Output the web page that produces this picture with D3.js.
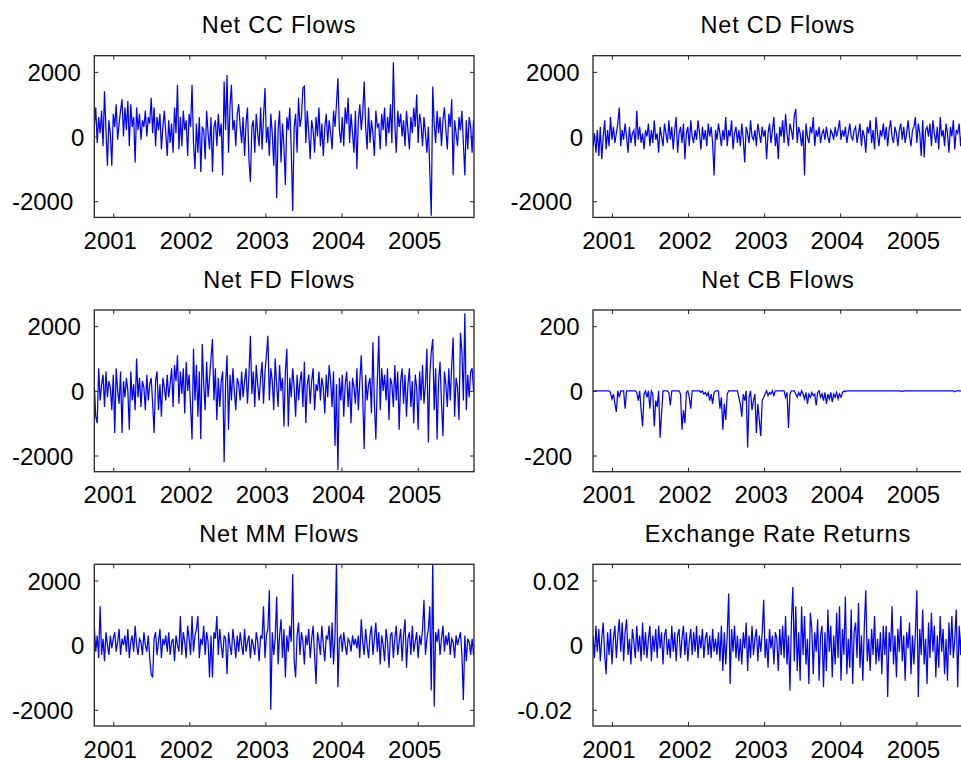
<!DOCTYPE html>
<html>
<head>
<meta charset="utf-8">
<script src="https://cdn.jsdelivr.net/npm/d3@7"></script>
<style>
  body { margin: 0; background: #fff; }
  svg { display: block; font-family: "Liberation Sans", Arial, sans-serif; }
</style>
</head>
<body>
<div id="chart"></div>
<script>
// Six weekly series, Oct 2000 - Sep 2005

const panelTitles = ['Net CC Flows', 'Net CD Flows', 'Net FD Flows', 'Net CB Flows', 'Net MM Flows', 'Exchange Rate Returns'];

const ccFlows = [
  300, 900, -200, 600, 100, 800, -300, 1400, 200, -900,
  500, 100, -900, 700, 300, 1000, -100, 400, 800, 1150,
  0, 900, 200, 1100, -300, 1000, 300, 600, -800, 900,
  200, 700, -100, 500, 300, 800, 0, 600, 400, 1200,
  100, 900, -300, 600, 200, 700, -400, 300, 800, 100,
  -600, 500, -200, 400, -500, 900, 100, 1600, -400, 600,
  -300, 800, 200, 500, -600, 700, 300, 1600, -200, -1000,
  400, -500, 600, -1100, 300, 200, -700, 800, 100, -400,
  600, -1100, 300, 500, -300, 700, 0, 400, -1200, 1700,
  200, 1900, -500, 900, 1600, 200, 500, -300, 700, 1000,
  300, -200, 600, -600, 400, 900, -700, -1400, 300, 500,
  -500, 700, 100, -300, 900, -400, 600, 1500, -200, 300,
  -600, 700, 100, -900, 500, -1900, 200, 800, -800, 400,
  -300, -1500, 600, 200, 900, -400, -2300, 300, 700, -500,
  1200, 300, 600, 1500, 1550, -200, 800, 100, -700, 500,
  200, -500, 600, 0, 900, -300, 400, -600, 300, 700,
  -200, 500, 100, -400, 800, 300, 1000, 1800, 200, -200,
  600, -300, 900, 400, 1200, -200, 700, 100, -500, 800,
  -1000, 500, 1000, 200, 700, 1700, 300, -400, 900, -200,
  500, 100, -600, 800, 300, 400, -400, 700, 200, 900,
  -300, 600, 100, 1000, -200, 2300, 400, -500, 800, 300,
  700, 0, 500, -300, 800, 200, -400, 600, 100, 900,
  300, 1300, -200, 700, 400, -300, 600, 100, -500, 300,
  -1100, -2450, 1550, 400, -200, 800, 100, 600, -300, 500,
  900, 200, -400, 700, 300, 1150, -1200, 500, 100, -300,
  600, 200, 800, -200, -1200, 500, -400, 600, 300, -500,
  500
];

const cdFlows = [
  -300, 100, -500, 200, -600, 300, -700, 0, 500, -400,
  200, -300, 600, -100, 300, -200, 100, 400, 900, -300,
  200, -100, 400, 0, -500, 300, -200, 100, 200, -300,
  800, -100, 300, -200, 100, -400, 200, 0, 400, -300,
  200, -200, 500, -100, 100, -500, 300, 0, -300, 400,
  100, -200, 500, -100, 300, -400, 200, 600, -500, 100,
  300, -200, 400, -700, 100, 300, -300, 500, 0, -200,
  200, -100, 500, 100, -400, 300, -100, 200, -300, 400,
  0, 300, -200, -1200, 200, -100, 400, 100, -300, 200,
  -100, 600, -300, 200, 0, 500, -400, 100, 300, -200,
  200, -300, 400, -100, -800, 300, 100, -200, 500, 0,
  -100, 200, -300, 400, 100, -200, 300, 0, 200, -700,
  100, 400, -200, 200, 600, -300, 100, -700, 300, 0,
  500, -200, 700, 100, -300, 400, 200, -100, 650, 850,
  -200, 300, 100, -300, 200, -1200, 400, 0, -200, 300,
  100, 600, -300, 200, 0, 300, -200, 100, 200, -100,
  300, 0, -200, 200, 100, -100, 300, 0, 200, 500,
  -100, 200, 0, 300, -200, 100, 400, 0, -100, 200,
  300, -200, 100, 400, -300, 200, 0, -500, 300, 100,
  500, -200, 200, -400, 600, 100, -300, 200, 0, 400,
  -100, 300, -300, 200, 500, 0, -200, 300, 100, -300,
  200, 400, -100, 300, -200, 100, 500, 0, -300, 200,
  300, 600, -200, 400, 100, -600, 500, -650, 200, 300,
  0, 400, -300, 500, 100, -200, 300, -400, 600, 0,
  200, -300, 400, 100, -500, 300, 0, 500, -400, 200,
  100, 400, -300, 200, 0, 300, -200, 100, 200, -100,
  0
];

const fdFlows = [
  200, -800, -1000, 700, -300, 200, 500, -500, 600, -200,
  300, 100, -600, 500, -1300, 700, 0, -400, 600, -1300,
  300, -200, 400, 0, -1200, 600, -300, 200, -600, 1000,
  -200, 400, -500, 300, 100, -600, 500, -300, 200, 400,
  -400, -1300, 300, 600, -600, 200, -800, 400, 100, -300,
  500, -200, 200, 700, -500, 800, 300, 1100, -400, 600,
  -100, 700, -700, 900, 0, 500, -500, -1500, 1300, -300,
  800, -800, 600, -1500, 1450, 200, -600, 900, -200, 400,
  1000, 1600, -300, 700, -900, 400, -500, 300, 600, -2200,
  200, 1100, -1200, 500, -300, 700, 0, -600, 400, 200,
  -300, 600, -200, 300, 700, -400, 500, 1700, -100, 600,
  -500, 800, 200, -300, 400, 900, -400, 600, 1100, 1700,
  -300, 700, 300, -600, 1000, 200, -500, 800, 0, 400,
  -1100, 600, 1300, -1100, 400, -200, 700, 100, -800, 500,
  -300, 300, 600, -500, 900, -1000, 200, 500, -400, 300,
  700, -600, 200, 0, 600, -300, 400, 100, -700, 500,
  -200, 800, 300, -500, 600, -1700, 200, -2450, 400, -300,
  500, -800, 200, 600, -500, 300, -1000, 400, 100, -400,
  700, -600, 300, 1100, -200, -1800, 500, -300, 200, 400,
  -700, 1500, -400, -1500, 300, 1700, -600, 700, 0, 500,
  -300, 700, -900, 400, 200, -500, 800, -300, 600, -1200,
  300, 700, -400, 500, -800, 200, 700, -500, 300, -1000,
  500, 100, -1200, 600, -300, 800, -400, 200, 1300, -1600,
  500, 1200, 1600, -600, 700, -1500, 300, 900, -400, -1400,
  600, 200, -500, 700, -300, 800, 1650, -800, 400, 100,
  -900, 1800, 1200, -300, 2400, -600, 500, -200, 600, 700,
  0
];

const cbFlows = [
  0, 0, 0, 0, 0, 0, 0, 0, 0, 0,
  0, 0, -5, -25, -10, -40, -65, 0, -20, 0,
  0, 0, -55, 0, 0, 0, 0, 0, 0, 0,
  -5, -30, 0, -60, -110, -10, 0, -20, 0, -55,
  0, -10, -110, -30, -50, 0, -145, -70, 0, 0,
  0, 0, -5, -45, 0, 0, 0, 0, 0, 0,
  -10, -120, -60, -100, -5, 0, -20, -55, 0, 0,
  0, 0, 0, 0, -5, 0, -10, -5, -15, -5,
  -30, -10, -40, -5, 0, 0, 0, -55, -20, -120,
  -40, -90, -10, 0, 0, 0, 0, 0, 0, 0,
  -20, -40, -80, -10, -30, 0, -175, -20, 0, -60,
  -30, -10, -130, -40, -90, -140, -30, -20, -10, 0,
  -15, -5, -10, 0, -15, 0, 0, 0, 0, 0,
  0, 0, -20, -5, -115, -10, 0, 0, 0, -10,
  -20, -5, -15, 0, -10, -25, -5, -40, -10, -20,
  -5, -15, -10, -45, -5, 0, -20, -10, -30, -5,
  -40, -10, -25, -5, -35, -10, -20, -5, -25, -10,
  -20, -5, 0, -3, 0, 0, 0, 0, 0, 0,
  0, 0, 0, 0, 0, 0, 0, 0, 0, 0,
  0, 0, 0, 0, 0, 0, 0, 0, 0, 0,
  0, 0, 0, 0, 0, 0, 0, 0, 0, 0,
  0, 0, -2, 0, 0, 0, 0, 0, 0, 0,
  0, 0, 0, 0, 0, 0, 0, 0, 0, 0,
  0, 0, 0, 0, 0, 0, 0, 0, 0, 0,
  0, 0, 0, 0, 0, 0, 0, 0, -3, 0,
  0, 0, 0, 0, 0, 0, 0, 0, 0, 0,
  0
];

const mmFlows = [
  600, -200, 300, -400, 1200, -300, 200, -500, 400, 0,
  -300, 300, -100, 200, 400, -200, 100, 500, -300, 200,
  0, 300, -200, 500, -400, 100, 300, -200, 600, 0,
  -300, 200, 100, -300, 400, 0, -200, 300, -400, -900,
  -1000, 200, 400, -300, 100, 500, -400, 200, 0, 300,
  -200, 400, -300, 100, 200, -500, 300, 0, -200, 900,
  -300, 400, 100, -400, 600, 200, -300, 900, -200, 300,
  500, 900, -400, 200, 0, 600, -300, 400, 100, -1000,
  300, -1000, 400, 200, 900, -300, 500, 0, -400, 300,
  200, -900, 400, 0, -300, 500, 100, -400, 300, -200,
  400, 0, -300, 500, -200, 100, 300, -400, 200, 0,
  -300, 400, 100, -500, 300, 200, 1200, -400, 300, 500,
  1700, -2000, 400, -300, 200, 1500, -600, 300, 800, -400,
  500, -1000, 300, -200, 600, 100, 2200, -500, -1000, 300,
  700, -300, 400, 100, -600, 300, 0, 500, -400, 200,
  600, -300, -1200, 400, 100, -300, 600, 0, -500, 300,
  200, 600, -400, 700, -600, 300, 2600, -1300, 200, 300,
  -200, 400, 0, -300, 200, 100, -200, 300, 0, 200,
  -100, 300, -400, 800, 100, -300, 500, 0, -400, 300,
  600, -300, 200, 700, -200, 400, -600, 300, 0, -500,
  500, 100, -700, 300, 400, -400, 200, 600, -300, 100,
  500, -500, 300, 800, -700, 200, 400, -300, 600, -200,
  100, 400, -400, 300, 0, 500, 1400, -300, 200, 500,
  1200, -1400, 2600, -1900, 400, 100, 500, -300, 200, 600,
  -200, 300, 0, 400, -300, 200, 100, -400, 300, 0,
  200, 400, -300, -1700, 300, -500, 200, 100, -300, 200,
  -300
];

const fxReturns = [
  .003, -.004, .006, -.002, .005, -.005, .002, .007, -.003, -.009,
  .004, -.003, .005, -.006, .002, .006, -.004, .003, .008, -.002,
  .007, -.005, .004, .008, -.003, .002, -.006, .005, .001, -.004,
  .006, -.002, .003, -.005, .007, -.003, .004, -.004, .002, .006,
  -.005, .003, -.002, .005, -.004, .006, -.001, .004, -.006, .003,
  .005, -.003, .002, -.004, .006, -.002, .004, -.005, .003, .005,
  -.004, .002, .006, -.003, .004, -.005, .001, .005, -.003, .004,
  -.002, .006, -.004, .003, -.001, .005, -.004, .002, .004, -.003,
  .003, -.004, .005, -.002, .002, -.003, .004, -.005, .006, -.008,
  .004, -.006, .003, .016, -.012, .005, -.002, .006, -.004, .003,
  -.005, .002, -.006, .004, -.001, .007, -.008, .003, -.004, .006,
  -.003, .002, .005, -.005, .003, -.002, .004, .014, -.004, .002,
  -.007, .005, -.001, .003, -.006, .004, .002, -.008, .005, -.003,
  .006, -.004, .009, -.006, .003, -.014, .007, .018, -.005, .012,
  -.008, .004, -.011, .012, -.003, .009, -.006, .002, -.012, .010,
  .005, -.009, .004, -.002, .008, -.011, .003, .006, -.013, .004,
  -.008, .011, -.002, .006, -.010, .003, -.006, .010, -.004, .012,
  -.011, .005, -.003, .015, -.009, .002, -.007, .011, -.012, .004,
  .007, -.004, .013, -.007, .003, -.011, .006, .017, -.005, .002,
  -.008, .005, -.003, .009, -.006, .002, -.005, .004, -.009, .006,
  -.003, .006, -.016, .004, -.002, .012, -.006, .003, -.010, .005,
  -.002, .009, -.005, .003, -.011, .004, -.001, .007, -.009, .003,
  -.006, .004, .017, -.016, .005, -.003, .011, -.006, .002, -.012,
  .007, -.004, .010, -.002, .006, -.010, .003, -.007, .009, -.002,
  .005, -.009, .002, -.011, .007, -.003, .009, -.004, .002, .011,
  -.013, .006, -.003, .009, -.005, .002, -.008, .004, -.006, .007,
  .003
];

const yearTicks = [2001, 2002, 2003, 2004, 2005];
const flowTicks = [-2000, 0, 2000];
const cbTicks = [-200, 0, 200];
const fxTicks = [-0.02, 0, 0.02];

const width = 961;
const height = 761;
const startDate = new Date(2000, 9, 2);
const endDate = new Date(2005, 8, 28);

const panels = [
  { title: panelTitles[0], values: ccFlows, domain: [-2500, 2500], ticks: flowTicks },
  { title: panelTitles[1], values: cdFlows, domain: [-2500, 2500], ticks: flowTicks },
  { title: panelTitles[2], values: fdFlows, domain: [-2500, 2500], ticks: flowTicks },
  { title: panelTitles[3], values: cbFlows, domain: [-250, 250], ticks: cbTicks },
  { title: panelTitles[4], values: mmFlows, domain: [-2500, 2500], ticks: flowTicks },
  { title: panelTitles[5], values: fxReturns, domain: [-0.025, 0.025], ticks: fxTicks }
];

// panel boxes
const colLeft = [94.3, 593];
const rowTop = [55.7, 310, 564.3];
const boxW = 379.7;
const boxH = 161.7;
const ink = '#262626';

let svg = d3.select('#chart').append('svg')
  .attr('width', width)
  .attr('height', height);

let x = d3.scaleTime().domain([startDate, endDate]).range([0, boxW]);
let yearDates = yearTicks.map(yr => new Date(yr, 0, 1));

panels.forEach((p, k) => {
  let left = colLeft[k % 2];
  let top = rowTop[Math.floor(k / 2)];
  let y = d3.scaleLinear().domain(p.domain).range([boxH, 0]);
  let pts = p.values.map((v, i) => ({ date: d3.timeDay.offset(startDate, 7 * i), v: v }));

  let g = svg.append('g').attr('transform', `translate(${left},${top})`);

  g.append('clipPath').attr('id', 'clip' + k)
    .append('rect').attr('width', boxW).attr('height', boxH);

  // title
  g.append('text')
    .attr('x', boxW / 2 - 5)
    .attr('y', -22.5)
    .attr('text-anchor', 'middle')
    .attr('font-size', 23.5)
    .attr('letter-spacing', 0.8)
    .attr('fill', '#000')
    .text(p.title);

  // series
  let line = d3.line()
    .x(d => x(d.date))
    .y(d => y(d.v));

  g.append('path')
    .datum(pts)
    .attr('clip-path', `url(#clip${k})`)
    .attr('d', line)
    .attr('fill', 'none')
    .attr('stroke', '#0000ff')
    .attr('stroke-width', 1.25)
    .attr('stroke-linejoin', 'miter');

  // axes, ticks inward on all sides
  let fmtY = d => String(d);

  g.append('g')
    .call(d3.axisLeft(y).tickValues(p.ticks).tickSize(-4).tickPadding(0).tickFormat(fmtY))
    .call(a => a.select('.domain').remove())
    .call(a => a.selectAll('.tick text')
      .attr('x', d => d > 0 ? -13.5 : (d === 0 ? -10 : -21))
      .attr('dy', '0.36em')
      .attr('font-size', 24)
      .attr('font-family', null)
      .attr('fill', '#000'));

  g.append('g')
    .attr('transform', `translate(${boxW},0)`)
    .call(d3.axisRight(y).tickValues(p.ticks).tickSize(-4).tickFormat(''))
    .call(a => a.select('.domain').remove());

  g.append('g')
    .attr('transform', `translate(0,${boxH})`)
    .call(d3.axisBottom(x).tickValues(yearDates).tickSize(-4).tickFormat(d3.timeFormat('%Y')))
    .call(a => a.select('.domain').remove())
    .call(a => a.selectAll('.tick text')
      .attr('y', 31.5)
      .attr('dy', 0)
      .attr('dx', -3.5)
      .attr('font-size', 24)
      .attr('font-family', null)
      .attr('fill', '#000'));

  g.append('g')
    .call(d3.axisTop(x).tickValues(yearDates).tickSize(-4).tickFormat(''))
    .call(a => a.select('.domain').remove());

  g.selectAll('.tick line').attr('stroke', ink).attr('stroke-width', 1);

  g.append('rect')
    .attr('width', boxW)
    .attr('height', boxH)
    .attr('fill', 'none')
    .attr('stroke', ink)
    .attr('stroke-width', 1.3);
});
</script>
</body>
</html>
